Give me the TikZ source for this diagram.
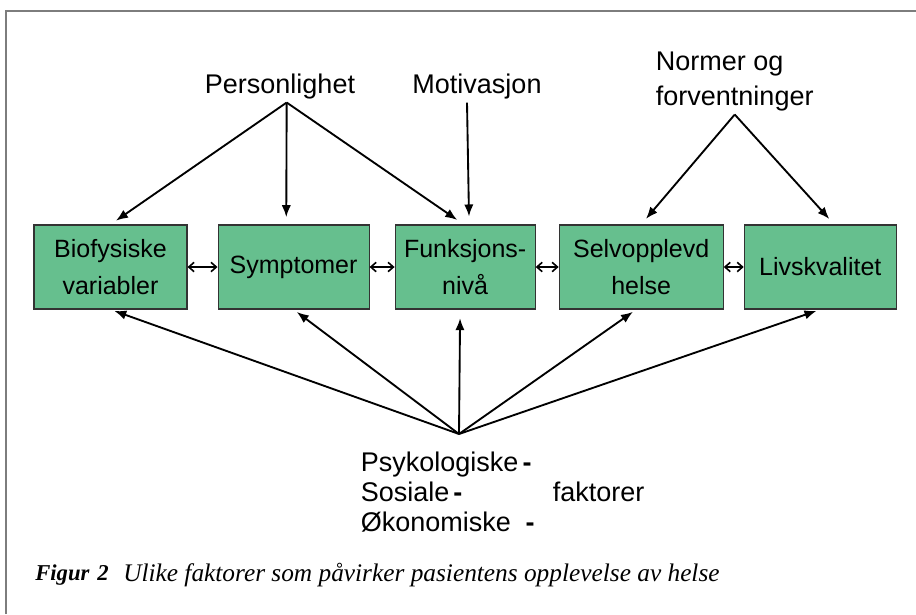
\documentclass[tikz,border=0pt]{standalone}
\usepackage{fontspec}
\setmainfont{Liberation Serif}
\setsansfont{Liberation Sans}
\usetikzlibrary{positioning,arrows.meta}

\definecolor{boxgreen}{RGB}{102,191,142}
\definecolor{framegray}{RGB}{125,125,125}

\begin{document}
\begin{tikzpicture}[
            x=0.75pt, y=-0.75pt,
            factor box/.style={rectangle, draw=black!80, line width=0.8pt, fill=boxgreen, inner sep=0pt,
                minimum height=63pt, align=center, font=\sffamily\fontsize{18.75}{27.75}\selectfont},
            top label/.style={inner sep=2pt, font=\sffamily\fontsize{20.25}{26.25}\selectfont},
            effect/.style={draw, line width=1.4pt, -{Latex[length=9pt,width=7pt]}},
            link/.style={draw, line width=1.2pt, {Straight Barb[length=4pt,width=7pt]}-{Straight Barb[length=4pt,width=7pt]}},
        ]
            \useasboundingbox (0,0) rectangle (916,614);
            \draw[framegray, line width=1.5pt] (6,614) -- (6,11) -- (916,11);

            % the five boxes
            \node[factor box, minimum width=114.75pt] (bio) at (110.5,267) {Biofysiske\\variabler};
            \node[factor box, minimum width=113.25pt, right=22.5pt of bio] (sym) {Symptomer};
            \node[factor box, minimum width=105pt, right=18.75pt of sym] (funk) {Funksjons-\\nivå};
            \node[factor box, minimum width=123pt, right=17.25pt of funk] (selv) {Selvopplevd\\helse};
            \node[factor box, minimum width=114pt, right=15pt of selv] (livs) {Livskvalitet};

            \path[link] (bio.east) -- (sym.west);
            \path[link] (sym.east) -- (funk.west);
            \path[link] (funk.east) -- (selv.west);
            \path[link] (selv.east) -- (livs.west);

            % influences from above
            \node[top label] (pers) at (280,87) {Personlighet};
            \node[top label] (motiv) at (477,87) {Motivasjon};
            \node[top label, anchor=west, align=left] (norm) at (653,82) {Normer og\\forventninger};

            \path[effect, shorten >=5pt] ([xshift=5pt]pers.south) -- (bio.north);
            \path[effect, shorten >=5.5pt] ([xshift=5pt]pers.south) -- ([xshift=-5.5pt]sym.north);
            \path[effect, shorten >=6pt] ([xshift=5pt]pers.south) -- ([xshift=-1pt]funk.north);
            \path[effect, shorten >=6pt] ([xshift=-7.5pt]motiv.south) -- ([xshift=3pt]funk.north);
            \path[effect, shorten >=5.5pt] (norm.south) -- (selv.north);
            \path[effect, shorten >=5.5pt] (norm.south) -- ([xshift=10.5pt]livs.north);

            % influences from below
            \coordinate (hub) at (459,434);
            \path[effect, shorten >=3pt] (hub) -- (bio.south);
            \path[effect, shorten >=3pt] (hub) -- (sym.south);
            \path[effect, shorten >=6.5pt] (hub) -- ([xshift=-3.75pt]funk.south);
            \path[effect, shorten >=3pt] (hub) -- ([xshift=-3.75pt]selv.south);
            \path[effect, shorten >=3pt] (hub) -- (livs.south);

            \node[top label, anchor=west, align=left, font=\sffamily\fontsize{20.25}{22.5}\selectfont] (kinds) at (358,492)
                {Psykologiske\hspace{3pt}\textbf{-}\\Sosiale\hspace{3pt}\textbf{-}\\Økonomiske\hspace{11pt}\textbf{-}};
            \node[top label, anchor=west] (fakt) at (550,492) {faktorer};

            % caption
            \node[anchor=west, inner sep=0pt, font=\rmfamily\fontsize{17}{22}\selectfont] (fig) at (35,575) {\textbf{\textit{Figur\hspace{6pt}2}}};
            \node[anchor=west, inner sep=0pt, font=\rmfamily\itshape\fontsize{19}{22}\selectfont] (cap) at (123,575)
                {Ulike faktorer som påvirker pasientens opplevelse av helse};
        \end{tikzpicture}
\end{document}
